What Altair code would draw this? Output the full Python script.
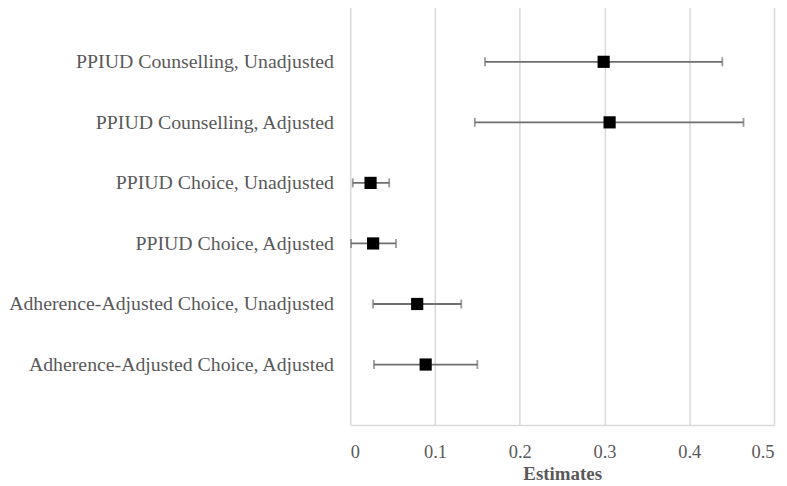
import altair as alt
import pandas as pd

labels = [
    "PPIUD Counselling, Unadjusted",
    "PPIUD Counselling, Adjusted",
    "PPIUD Choice, Unadjusted",
    "PPIUD Choice, Adjusted",
    "Adherence-Adjusted Choice, Unadjusted",
    "Adherence-Adjusted Choice, Adjusted",
]
est = [0.299, 0.306, 0.024, 0.027, 0.079, 0.089]
low = [0.159, 0.147, 0.003, 0.001, 0.027, 0.028]
high = [0.439, 0.464, 0.046, 0.054, 0.131, 0.150]
x_ticks = [0, 0.1, 0.2, 0.3, 0.4, 0.5]

df = pd.DataFrame({"label": labels, "est": est, "low": low, "high": high})

FONT = "Liberation Serif"
GREY = "#595959"
BAR = "#6f6f6f"

y_enc = alt.Y(
    "label:N",
    sort=labels,
    scale=alt.Scale(type="point", padding=1),
    axis=alt.Axis(
        title=None, domain=False, ticks=False, grid=False,
        labelFont=FONT, labelFontSize=19.9, labelColor=GREY,
        labelPadding=17, labelLimit=400,
    ),
)
x_scale = alt.Scale(domain=[0, 0.5], nice=False)
x_axis = alt.Axis(
    values=x_ticks, format="~g", title="Estimates", ticks=False,
    domain=True, domainColor="#d9d9d9", domainWidth=1.5,
    grid=True, gridColor="#d9d9d9", gridWidth=1.5,
    labelFont=FONT, labelFontSize=18.5, labelColor=GREY, labelPadding=18,
    titleFont=FONT, titleFontSize=19, titleFontWeight="bold", titleColor=GREY,
    titlePadding=3,
)

base = alt.Chart(df)

rules = base.mark_rule(color=BAR, strokeWidth=1.8).encode(
    x=alt.X("low:Q", scale=x_scale, axis=x_axis), x2="high:Q", y=y_enc
)
cap_lo = base.mark_tick(color=BAR, thickness=1.8, size=9).encode(
    x=alt.X("low:Q", scale=x_scale), y=y_enc
)
cap_hi = base.mark_tick(color=BAR, thickness=1.8, size=9).encode(
    x=alt.X("high:Q", scale=x_scale), y=y_enc
)
pts = base.mark_point(shape="square", filled=True, color="black", opacity=1, size=150).encode(
    x=alt.X("est:Q", scale=x_scale), y=y_enc
)

chart = (
    alt.layer(rules, cap_lo, cap_hi, pts)
    .properties(width=426, height=426, padding={"left": 0, "top": -8, "right": 5, "bottom": 0})
    .configure_view(stroke=None)
)

chart.save("out.html", embed_options={"renderer": "svg", "actions": False})
